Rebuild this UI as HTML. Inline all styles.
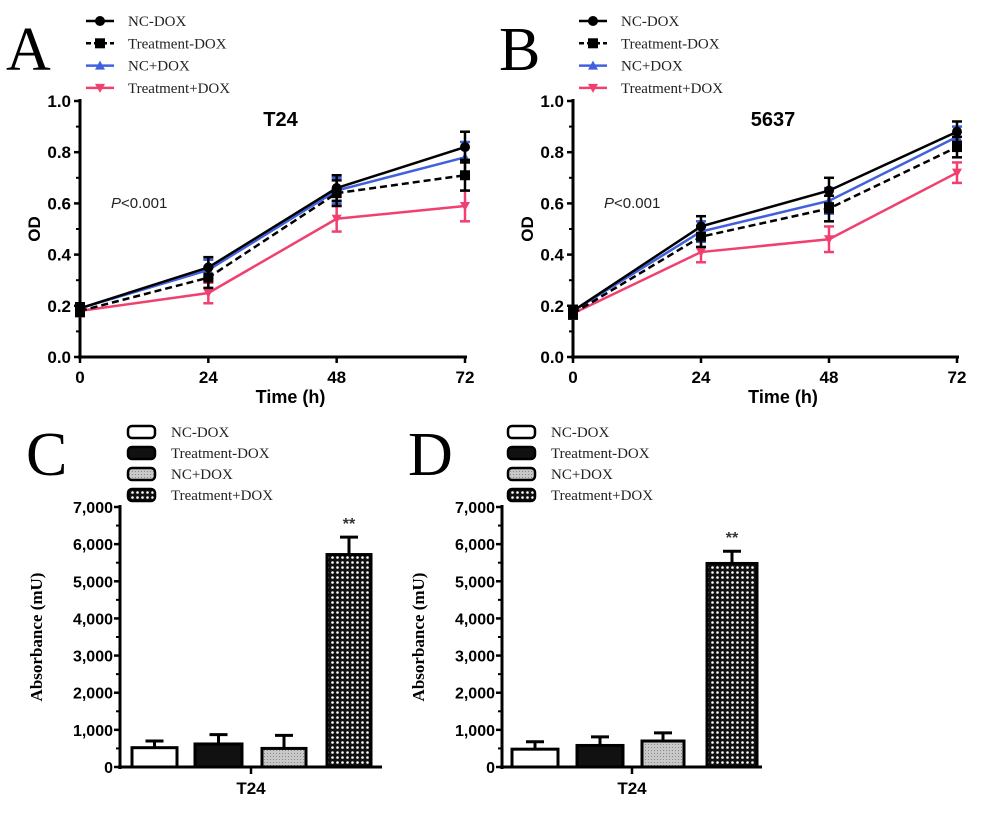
<!DOCTYPE html>
<html><head><meta charset="utf-8"><style>
body{margin:0;background:#fff;}
svg text{font-family:"Liberation Sans",Arial,sans-serif;}
.serif{font-family:"Liberation Serif",serif !important;}
</style></head><body>
<svg id="fig" width="991" height="817" viewBox="0 0 991 817" xmlns="http://www.w3.org/2000/svg">
<defs>
<pattern id="dots" width="5" height="5" patternUnits="userSpaceOnUse"><rect width="5" height="5" fill="#111"/><circle cx="2.5" cy="2.5" r="1.3" fill="#fff"/></pattern>
<pattern id="grey" width="3" height="3" patternUnits="userSpaceOnUse"><rect width="3" height="3" fill="#c8c8c8"/><rect width="1" height="1" fill="#888"/></pattern>
</defs>
</svg>
<script>
const timeCats=[0,24,48,72];
const lineSeriesNames=["NC-DOX","Treatment-DOX","NC+DOX","Treatment+DOX"];
const aNC=[0.19,0.35,0.66,0.82];
const aTr=[0.18,0.31,0.64,0.71];
const aNCD=[0.19,0.34,0.65,0.78];
const aTrD=[0.18,0.25,0.54,0.59];
const aErr=[0.02,0.04,0.05,0.06];
const bNC=[0.18,0.51,0.65,0.88];
const bTr=[0.17,0.47,0.58,0.82];
const bNCD=[0.18,0.49,0.61,0.86];
const bTrD=[0.17,0.41,0.46,0.72];
const bErr=[0.02,0.04,0.05,0.04];
const odTicks=["0.0","0.2","0.4","0.6","0.8","1.0"];
const barCats=["NC-DOX","Treatment-DOX","NC+DOX","Treatment+DOX"];
const cVals=[520,620,500,5720];
const cErr=[180,250,350,470];
const dVals=[480,580,700,5480];
const dErr=[200,230,220,330];
const absTicks=["0","1,000","2,000","3,000","4,000","5,000","6,000","7,000"];

const svg=document.getElementById('fig');
const NS='http://www.w3.org/2000/svg';
function el(tag,attrs,parent){const e=document.createElementNS(NS,tag);for(const k in attrs)e.setAttribute(k,attrs[k]);(parent||svg).appendChild(e);return e;}
function txt(s,x,y,attrs,parent){const t=el('text',Object.assign({x:x,y:y},attrs),parent);t.textContent=s;return t;}

const styles=[{c:'#000',dash:'',m:'circle'},{c:'#000',dash:'7,4',m:'square'},{c:'#4060e0',dash:'',m:'tri'},{c:'#f04070',dash:'',m:'tridown'}];
function marker(g,type,x,y,c){
  if(type==='circle')el('circle',{cx:x,cy:y,r:5,fill:c},g);
  else if(type==='square')el('rect',{x:x-5,y:y-5,width:10,height:10,fill:c},g);
  else if(type==='tri')el('polygon',{points:`${x},${y-5} ${x-5},${y+4} ${x+5},${y+4}`,fill:c},g);
  else el('polygon',{points:`${x},${y+5} ${x-5},${y-4} ${x+5},${y-4}`,fill:c},g);
}

function lineChart(letter,title,ax,axEnd,series,err,legX){
  const y0=357,y1=101;
  const X=v=>ax+(v-timeCats[0])/(timeCats[timeCats.length-1]-timeCats[0])*(axEnd-ax);
  const Y=v=>y0-v*(y0-y1);
  const g=el('g',{});
  
  
  const L=txt(letter,ax-74,70,{'font-size':62,class:'serif'},g);
  
  
  // legend
  lineSeriesNames.forEach((n,i)=>{
    const ly=21+i*22.3, s=styles[i];
    const lg=el('g',{},g);
    
    
    el('line',{x1:legX-14,x2:legX+14,y1:ly,y2:ly,stroke:s.c,'stroke-width':2.5,'stroke-dasharray':s.dash?'5,3':''},lg);
    marker(lg,s.m,legX,ly,s.c);
    txt(n,legX+28,ly+5,{'font-size':15,class:'serif',fill:'#222'},lg);
  });
  // axes
  el('line',{x1:ax,x2:ax,y1:y1-2,y2:y0+2,stroke:'#000','stroke-width':3},g);
  el('line',{x1:ax-2,x2:axEnd+2,y1:y0,y2:y0,stroke:'#000','stroke-width':3},g);
  odTicks.forEach((t,i)=>{
    const v=i*0.2,yy=Y(v);
    el('line',{x1:ax-6,x2:ax,y1:yy,y2:yy,stroke:'#000','stroke-width':2.5},g);
    if(i<5)el('line',{x1:ax-4,x2:ax,y1:Y(v+0.1),y2:Y(v+0.1),stroke:'#000','stroke-width':2},g);
    txt(t,ax-9,yy+6,{'font-size':17,'font-weight':'bold','text-anchor':'end'},g);
  });
  timeCats.forEach(t=>{
    el('line',{x1:X(t),x2:X(t),y1:y0,y2:y0+6,stroke:'#000','stroke-width':2.5},g);
    txt(String(t),X(t),y0+26,{'font-size':17,'font-weight':'bold','text-anchor':'middle'},g);
  });
  txt('Time (h)',(ax+axEnd)/2+18,y0+46,{'font-size':18,'font-weight':'bold','text-anchor':'middle'},g);
  txt('OD',ax-40,(y0+y1)/2,{'font-size':17,'font-weight':'bold','text-anchor':'middle',transform:`rotate(-90 ${ax-40} ${(y0+y1)/2})`},g);
  txt(title,(ax+axEnd)/2+8,126,{'font-size':20,'font-weight':'bold','text-anchor':'middle'},g);
  const p=el('text',{x:ax+31,y:208,'font-size':15,fill:'#222'},g);
  p.innerHTML='<tspan font-style="italic">P</tspan>&lt;0.001';
  // series
  [3,2,1,0].forEach(i=>{
    const s=styles[i],vals=series[i];
    const sg=el('g',{},g);
    
    
    el('polyline',{points:vals.map((v,j)=>X(timeCats[j])+','+Y(v)).join(' '),fill:'none',stroke:s.c,'stroke-width':2.5,'stroke-dasharray':s.dash},sg);
    vals.forEach((v,j)=>{
      const x=X(timeCats[j]),e=err[j];
      el('line',{x1:x,x2:x,y1:Y(v-e),y2:Y(v+e),stroke:s.c,'stroke-width':2.5},sg);
      el('line',{x1:x-5,x2:x+5,y1:Y(v-e),y2:Y(v-e),stroke:s.c,'stroke-width':2.5},sg);
      el('line',{x1:x-5,x2:x+5,y1:Y(v+e),y2:Y(v+e),stroke:s.c,'stroke-width':2.5},sg);
      marker(sg,s.m,x,Y(v),s.c);
    });
  });
}
lineChart('A','T24',80,465,[aNC,aTr,aNCD,aTrD],aErr,100);
lineChart('B','5637',573,957,[bNC,bTr,bNCD,bTrD],bErr,593);

const fills=['#fff','#111','url(#grey)','url(#dots)'];
function barChart(letter,ax,axEnd,vals,err,barXs,legX){
  const y0=767,y1=507;
  const Y=v=>y0-v/7000*(y0-y1);
  const g=el('g',{});
  
  
  const L=txt(letter,ax-94,475,{'font-size':62,class:'serif'},g);
  
  
  barCats.forEach((n,i)=>{
    const ly=432+i*21;
    const lg=el('g',{},g);
    
    
    el('rect',{x:legX,y:ly-6,width:27,height:12,rx:4,fill:fills[i],stroke:'#000','stroke-width':2.5},lg);
    txt(n,legX+43,ly+5,{'font-size':15,class:'serif',fill:'#222'},lg);
  });
  el('line',{x1:ax,x2:ax,y1:y1-2,y2:y0+2,stroke:'#000','stroke-width':3},g);
  el('line',{x1:ax-2,x2:axEnd,y1:y0,y2:y0,stroke:'#000','stroke-width':3},g);
  el('line',{x1:(ax+axEnd)/2,x2:(ax+axEnd)/2,y1:y0,y2:y0+7,stroke:'#000','stroke-width':2.5},g);
  absTicks.forEach((t,i)=>{
    const yy=Y(i*1000);
    el('line',{x1:ax-6,x2:ax,y1:yy,y2:yy,stroke:'#000','stroke-width':2.5},g);
    if(i<7)el('line',{x1:ax-4,x2:ax,y1:Y(i*1000+500),y2:Y(i*1000+500),stroke:'#000','stroke-width':2},g);
    txt(t,ax-7,yy+6,{'font-size':16,'font-weight':'bold','text-anchor':'end'},g);
  });
  txt('T24',(ax+axEnd)/2,y0+27,{'font-size':17,'font-weight':'bold','text-anchor':'middle'},g);
  const cy=(y0+y1)/2;
  txt('Absorbance (mU)',ax-78,cy,{'font-size':17,'font-weight':'bold','text-anchor':'middle',class:'serif',transform:`rotate(-90 ${ax-78} ${cy})`},g);
  vals.forEach((v,i)=>{
    const [bx,bw]=barXs[i];
    const b=el('rect',{x:bx,y:Y(v),width:bw,height:y0-Y(v),fill:fills[i],stroke:'#000','stroke-width':3},g);
    
    
    const cx=bx+bw/2;
    el('line',{x1:cx,x2:cx,y1:Y(v),y2:Y(v+err[i]),stroke:'#000','stroke-width':3},g);
    el('line',{x1:cx-9,x2:cx+9,y1:Y(v+err[i]),y2:Y(v+err[i]),stroke:'#000','stroke-width':3},g);
    if(i===3)txt('**',cx,Y(v+err[i])-8,{'font-size':16,'font-weight':'bold','text-anchor':'middle',fill:'#333'},g);
  });
}
barChart('C',120,382,cVals,cErr,[[132,45],[195,47],[262,44],[327,44]],128);
barChart('D',502,762,dVals,dErr,[[512,46],[577,46],[642,42],[707,50]],508);
</script>
</body></html>
